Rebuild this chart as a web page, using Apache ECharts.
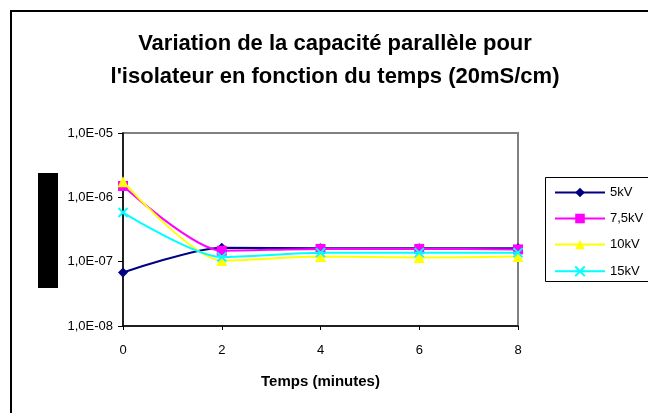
<!DOCTYPE html>
<html>
<head>
<meta charset="utf-8">
<script src="https://cdn.jsdelivr.net/npm/echarts@6/dist/echarts.min.js"></script>
<style>html,body{margin:0;padding:0;background:#fff;}#c{width:648px;height:413px;}</style>
</head>
<body>
<div id="c"></div>
<script>
const times = [0, 2, 4, 6, 8];
const seriesNames = ['5kV', '7,5kV', '10kV', '15kV'];
const v5kV  = [6.8e-8, 1.65e-7, 1.62e-7, 1.62e-7, 1.62e-7];
const v7_5kV = [1.5e-6, 1.48e-7, 1.58e-7, 1.58e-7, 1.55e-7];
const v10kV = [1.75e-6, 1.04e-7, 1.2e-7, 1.16e-7, 1.2e-7];
const v15kV = [5.8e-7, 1.18e-7, 1.38e-7, 1.38e-7, 1.38e-7];
const yTicks = ['1,0E-08', '1,0E-07', '1,0E-06', '1,0E-05'];
const xTicks = ['0', '2', '4', '6', '8'];

const colors = ['#000080', '#FF00FF', '#FFFF00', '#00FFFF'];
const symbols = ['diamond', 'rect', 'triangle', 'path://M0,0 L10,10 M10,0 L0,10'];
const allValues = [v5kV, v7_5kV, v10kV, v15kV];

const chart = echarts.init(document.getElementById('c'));
const series = allValues.map((vals, i) => ({
  name: seriesNames[i],
  type: 'line',
  smooth: 0.25,
  data: times.map((t, k) => [t, vals[k]]),
  symbol: symbols[i],
  symbolSize: i === 3 ? 9 : (i === 2 ? 11 : 10),
  lineStyle: { color: colors[i], width: 2 },
  itemStyle: i === 3
    ? { color: 'none', borderColor: colors[i], borderWidth: 2 }
    : { color: colors[i], borderWidth: 0 },
  z: 2 + i
}));

chart.setOption({
  animation: false,
  title: {
    text: 'Variation de la capacité parallèle pour\nl\'isolateur en fonction du temps (20mS/cm)',
    left: 330, textAlign: 'center', top: 22,
    textStyle: { fontFamily: 'Liberation Sans, Arial', fontSize: 22, fontWeight: 'bold', color: '#000', lineHeight: 33 }
  },
  graphic: [
    { type: 'rect', shape: { x: 11, y: 11, width: 700, height: 500 }, style: { fill: 'none', stroke: '#000', lineWidth: 2 }, z: 0 },
    { type: 'rect', shape: { x: 38, y: 173, width: 20, height: 115 }, style: { fill: '#000' } },
    { type: 'rect', shape: { x: 545.5, y: 177.5, width: 200, height: 104 }, style: { fill: 'none', stroke: '#000', lineWidth: 1 } }
  ],
  legend: {
    orient: 'vertical', left: 549, top: 181,
    itemWidth: 50, itemHeight: 12, itemGap: 13,
    textStyle: { fontFamily: 'Liberation Sans, Arial', fontSize: 13, color: '#000' },
    data: seriesNames
  },
  grid: { left: 123, right: 130, top: 133, bottom: 87, show: true, borderColor: '#808080', borderWidth: 2 },
  xAxis: {
    type: 'value', min: 0, max: 8, interval: 2,
    name: 'Temps (minutes)', nameLocation: 'middle', nameGap: 48,
    nameTextStyle: { fontFamily: 'Liberation Sans, Arial', fontSize: 15, fontWeight: 'bold', color: '#000' },
    axisLine: { lineStyle: { color: '#000', width: 1.5 } },
    axisTick: { show: true, length: 4, lineStyle: { color: '#000' } },
    axisLabel: { margin: 18, fontFamily: 'Liberation Sans, Arial', fontSize: 13, color: '#000',
      formatter: v => xTicks[times.indexOf(v)] ?? String(v) },
    splitLine: { show: false }
  },
  yAxis: {
    type: 'log', logBase: 10, min: 1e-8, max: 1e-5,
    axisLine: { show: true, lineStyle: { color: '#000', width: 1.5 } },
    axisTick: { show: true, length: 5, lineStyle: { color: '#000' } },
    axisLabel: { margin: 10, fontFamily: 'Liberation Sans, Arial', fontSize: 13, color: '#000',
      formatter: v => yTicks[Math.round(Math.log10(v)) + 8] },
    splitLine: { show: false },
    minorTick: { show: false }
  },
  series: series
});
</script>
</body>
</html>
